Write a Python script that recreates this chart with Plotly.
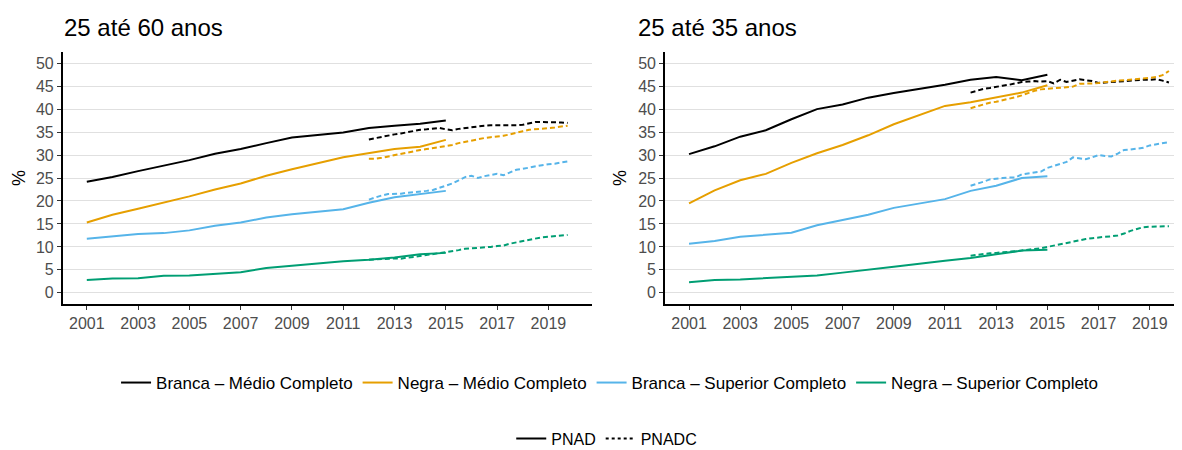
import plotly.graph_objects as go

# PNAD (anual, sem 2010)
anos_pnad = [2001, 2002, 2003, 2004, 2005, 2006, 2007, 2008, 2009, 2011, 2012, 2013, 2014, 2015]

# PNADC (trimestral)
trimestres = [
    2012.0, 2012.25, 2012.5, 2012.75, 2013.0, 2013.25, 2013.5, 2013.75,
    2014.0, 2014.25, 2014.5, 2014.75, 2015.0, 2015.25, 2015.5, 2015.75,
    2016.0, 2016.25, 2016.5, 2016.75, 2017.0, 2017.25, 2017.5, 2017.75,
    2018.0, 2018.25, 2018.5, 2018.75, 2019.0, 2019.25, 2019.5, 2019.75,
]

grupos = [
    "Branca – Médio Completo",
    "Negra – Médio Completo",
    "Branca – Superior Completo",
    "Negra – Superior Completo",
]
cores = ["#000000", "#E69F00", "#56B4E9", "#009E73"]

# 25 até 60 anos
pnad_60 = [
    [24.2, 25.2, 26.5, 27.7, 28.9, 30.3, 31.3, 32.6, 33.8, 34.9, 35.9, 36.4, 36.8, 37.5],
    [15.3, 17.0, 18.3, 19.6, 21.0, 22.5, 23.8, 25.5, 26.9, 29.5, 30.4, 31.3, 31.8, 33.3],
    [11.8, 12.3, 12.8, 13.0, 13.6, 14.6, 15.3, 16.4, 17.1, 18.2, 19.6, 20.8, 21.5, 22.2],
    [2.8, 3.1, 3.2, 3.7, 3.8, 4.2, 4.5, 5.4, 5.9, 6.9, 7.2, 7.7, 8.4, 8.7],
]
pnadc_60 = [
    [33.4, 33.7, 34.0, 34.3, 34.5, 34.7, 35.0, 35.3, 35.5, 35.6, 35.8, 35.9,
     35.6, 35.4, 35.7, 35.9, 36.0, 36.2, 36.4, 36.5, 36.5, 36.5, 36.4, 36.5,
     36.6, 36.9, 37.2, 37.2, 37.2, 37.1, 37.1, 37.0],
    [29.2, 29.2, 29.4, 29.7, 30.0, 30.3, 30.5, 30.8, 31.1, 31.3, 31.5, 31.8,
     32.0, 32.2, 32.6, 32.9, 33.2, 33.5, 33.7, 33.9, 34.0, 34.2, 34.5, 34.9,
     35.2, 35.5, 35.6, 35.8, 35.8, 36.0, 36.2, 36.4],
    [20.3, 20.8, 21.2, 21.5, 21.5, 21.6, 21.8, 21.9, 22.0, 22.2, 22.4, 22.9,
     23.3, 23.8, 24.5, 25.2, 25.5, 25.0, 25.4, 25.7, 25.9, 25.6, 26.2, 26.8,
     27.0, 27.3, 27.5, 27.8, 28.0, 28.1, 28.4, 28.6],
    [7.2, 7.3, 7.3, 7.4, 7.5, 7.4, 7.7, 7.8, 8.0, 8.2, 8.4, 8.6,
     8.8, 9.0, 9.3, 9.6, 9.7, 9.7, 9.8, 10.0, 10.2, 10.3, 10.7, 11.0,
     11.2, 11.5, 11.8, 12.1, 12.2, 12.3, 12.5, 12.6],
]

# 25 até 35 anos
pnad_35 = [
    [30.2, 31.9, 34.0, 35.4, 37.8, 40.0, 41.0, 42.5, 43.5, 45.3, 46.4, 47.0, 46.3, 47.5],
    [19.5, 22.3, 24.5, 25.9, 28.3, 30.4, 32.2, 34.3, 36.7, 40.7, 41.5, 42.6, 43.6, 45.2],
    [10.7, 11.3, 12.2, 12.6, 13.1, 14.7, 15.8, 17.0, 18.5, 20.4, 22.2, 23.3, 25.0, 25.4],
    [2.3, 2.8, 2.9, 3.2, 3.5, 3.8, 4.4, 5.1, 5.7, 7.0, 7.6, 8.4, 9.2, 9.4],
]
pnadc_35 = [
    [43.6, 44.0, 44.4, 44.6, 44.9, 45.1, 45.3, 45.6, 45.9, 46.0, 46.1, 46.0,
     46.1, 45.6, 46.4, 45.9, 46.2, 46.5, 46.3, 46.1, 45.7, 45.8, 45.9, 46.1,
     46.2, 46.3, 46.4, 46.4, 46.4, 46.5, 46.2, 45.8],
    [40.2, 40.6, 41.0, 41.4, 41.6, 41.9, 42.3, 42.6, 43.0, 43.5, 44.0, 44.3,
     44.4, 44.6, 44.7, 44.8, 44.9, 45.5, 45.5, 45.6, 45.7, 45.9, 46.1, 46.2,
     46.3, 46.4, 46.5, 46.6, 46.8, 47.0, 47.4, 48.3],
    [23.3, 23.7, 24.2, 24.7, 24.9, 25.0, 25.1, 25.1, 25.8, 26.0, 26.1, 26.4,
     27.2, 27.6, 28.0, 28.5, 29.5, 29.3, 29.1, 29.5, 30.0, 29.8, 29.7, 30.3,
     31.1, 31.2, 31.4, 31.6, 32.1, 32.3, 32.5, 32.8],
    [8.1, 8.3, 8.4, 8.6, 8.7, 8.8, 8.9, 9.1, 9.2, 9.4, 9.5, 9.7,
     10.0, 10.3, 10.6, 10.9, 11.2, 11.5, 11.7, 11.9, 12.1, 12.2, 12.3, 12.5,
     12.9, 13.5, 13.9, 14.3, 14.4, 14.4, 14.4, 14.5],
]

titulos = ["25 até 60 anos", "25 até 35 anos"]
y_ticks = [0, 5, 10, 15, 20, 25, 30, 35, 40, 45, 50]
x_ticks = [2001, 2003, 2005, 2007, 2009, 2011, 2013, 2015, 2017, 2019]

FONT = "Liberation Sans, Arial, sans-serif"
DASH = "5px,3px"

fig = go.Figure()

paineis = [("x", "y", pnad_60, pnadc_60), ("x2", "y2", pnad_35, pnadc_35)]
for p, (xa, ya, pnad, pnadc) in enumerate(paineis):
    for i, nome in enumerate(grupos):
        fig.add_trace(
            go.Scatter(
                x=anos_pnad, y=pnad[i], mode="lines", name=nome,
                line=dict(color=cores[i], width=2),
                xaxis=xa, yaxis=ya, legend="legend",
                showlegend=(p == 0),
            )
        )
        fig.add_trace(
            go.Scatter(
                x=trimestres, y=pnadc[i], mode="lines", name=nome,
                line=dict(color=cores[i], width=2, dash=DASH),
                xaxis=xa, yaxis=ya, showlegend=False,
            )
        )

# legenda da fonte (PNAD / PNADC)
for nome, dash in [("PNAD", "solid"), ("PNADC", "3px,3px")]:
    fig.add_trace(
        go.Scatter(
            x=[None], y=[None], mode="lines", name=nome,
            line=dict(color="black", width=2, dash=dash),
            legend="legend2",
        )
    )

eixo_x = dict(
    tickmode="array", tickvals=x_ticks, showgrid=False, zeroline=False,
    showline=True, linecolor="black", linewidth=1.5,
    ticks="outside", ticklen=4, tickcolor="#333333",
    tickfont=dict(size=16, color="#4D4D4D"),
)
eixo_y = dict(
    tickmode="array", tickvals=y_ticks, range=[-2.5, 52.5],
    showgrid=True, gridcolor="#E0E0E0", gridwidth=1, zeroline=False,
    showline=True, linecolor="black", linewidth=1.5,
    ticks="outside", ticklen=4, tickcolor="#333333",
    tickfont=dict(size=16, color="#4D4D4D"),
)

# a página tem 8px de margem no body: figura de 1174x442
fig.update_layout(
    width=1174,
    height=442,
    margin=dict(l=0, r=0, t=0, b=0, autoexpand=False),
    plot_bgcolor="white",
    paper_bgcolor="white",
    font=dict(family=FONT, color="black"),
    xaxis=dict(eixo_x, domain=[0.0466, 0.4972], range=[2000.06, 2020.69]),
    yaxis=dict(eixo_y, domain=[0.3296, 0.9011]),
    xaxis2=dict(eixo_x, domain=[0.5596, 1.0], range=[2000.06, 2020.26]),
    yaxis2=dict(eixo_y, domain=[0.3296, 0.9011], anchor="x2"),
    legend=dict(
        orientation="h", x=0.5124, xanchor="center", y=0.1516, yanchor="middle",
        font=dict(size=17, color="black"),
    ),
    legend2=dict(
        orientation="h", x=0.510, xanchor="center", y=0.026, yanchor="middle",
        font=dict(size=16, color="black"),
    ),
)
fig.update_layout(xaxis2_anchor="y2")

# títulos dos painéis e rótulos do eixo y
for titulo, xpos in zip(titulos, [0.0460, 0.5350]):
    fig.add_annotation(
        text=titulo, xref="paper", yref="paper", x=xpos, y=0.9548,
        xanchor="left", yanchor="middle", showarrow=False,
        font=dict(size=24, color="black"),
    )
for xpos in [0.0094, 0.5213]:
    fig.add_annotation(
        text="%", xref="paper", yref="paper", x=xpos, y=0.6154,
        xanchor="center", yanchor="middle", showarrow=False, textangle=-90,
        font=dict(size=18, color="black"),
    )

fig.write_html("out.html")
